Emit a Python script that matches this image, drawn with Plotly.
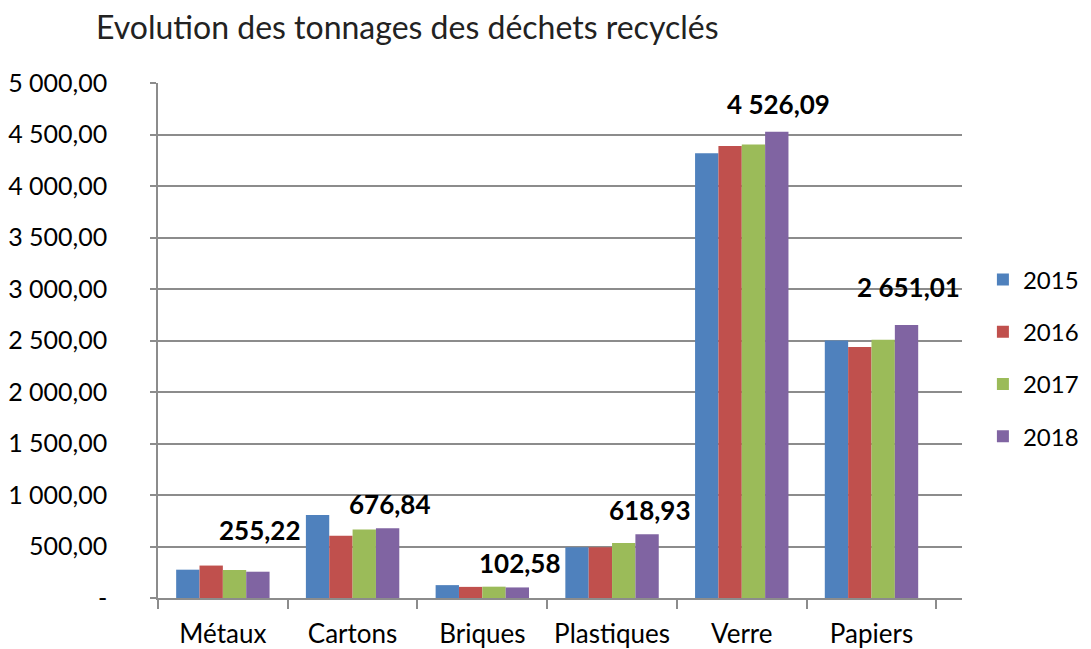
import plotly.graph_objects as go

categories = ["Métaux", "Cartons", "Briques", "Plastiques", "Verre", "Papiers"]
years = ["2015", "2016", "2017", "2018"]
v2015 = [275, 805, 125, 492, 4317, 2500]
v2016 = [315, 605, 108, 492, 4389, 2438]
v2017 = [272, 665, 110, 535, 4402, 2507]
v2018 = [255.22, 676.84, 102.58, 618.93, 4526.09, 2651.01]
colors = ["#4F81BD", "#C0504D", "#9BBB59", "#8064A2"]

tick_vals = [0, 500, 1000, 1500, 2000, 2500, 3000, 3500, 4000, 4500, 5000]


def fr(v):
    s = f"{v:,.2f}"
    return s.replace(",", " ").replace(".", ",")


tick_text = ["-" if v == 0 else fr(v) for v in tick_vals]

FONT = "Lato, 'Open Sans', sans-serif"
W, H = 1083, 641  # page body has an 8px margin

fig = go.Figure()
for i, (yr, vals) in enumerate(zip(years, [v2015, v2016, v2017, v2018])):
    fig.add_trace(go.Bar(
        x=categories, y=vals, name=yr, marker_color=colors[i],
        marker_line_width=0, legendgroup=yr,
    ))

# data labels on 2018 series
label_yshift = [42, 24, 24, 24, 28, 38]
for cat, v, ys in zip(categories, v2018, label_yshift):
    fig.add_annotation(
        x=cat, y=v, text=f"<b>{fr(v)}</b>", showarrow=False,
        xshift=37, yshift=ys, yanchor="middle",
        font=dict(family=FONT, size=26, color="#000000"),
    )

fig.update_layout(
    width=W, height=H,
    margin=dict(l=150, r=129, t=75, b=51, autoexpand=False),
    paper_bgcolor="white", plot_bgcolor="white",
    barmode="group", bargap=0.28, bargroupgap=0.0,
    font=dict(family=FONT, size=25, color="#000000"),
    title=dict(
        text="Evolution des tonnages des déchets recyclés",
        x=88 / W, xanchor="left", xref="container",
        y=1 - 20 / H, yanchor="middle", yref="container",
        font=dict(family=FONT, size=32, color="#222222"),
    ),
    legend=dict(
        x=1.026, xanchor="left", y=0.466, yanchor="middle",
        font=dict(family=FONT, size=24, color="#000000"),
        tracegroupgap=18, bgcolor="rgba(0,0,0,0)",
    ),
    showlegend=True,
)

fig.update_yaxes(
    range=[0, 5000], tickvals=tick_vals, ticktext=tick_text,
    showgrid=True, gridcolor="#8C8C8C", gridwidth=1.5,
    showline=True, linecolor="#8C8C8C", linewidth=1.5,
    ticks="outside", ticklen=6, tickcolor="#8C8C8C", tickwidth=1.5,
    ticklabelstandoff=38, zeroline=False,
    tickfont=dict(family=FONT, size=25, color="#000000"),
)
fig.update_xaxes(
    showline=True, linecolor="#8C8C8C", linewidth=1.5,
    ticks="outside", ticklen=9, tickcolor="#8C8C8C", tickwidth=1.5,
    tickson="boundaries", ticklabelstandoff=12,
    tickfont=dict(family=FONT, size=26, color="#000000"),
)

fig.write_html("out.html")
